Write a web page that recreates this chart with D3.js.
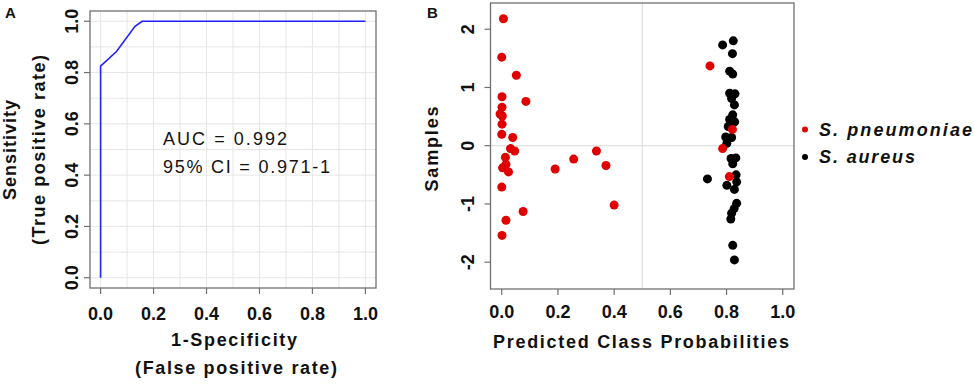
<!DOCTYPE html>
<html>
<head>
<meta charset="utf-8">
<script src="https://cdn.jsdelivr.net/npm/d3@7"></script>
<style>
  body { margin: 0; background: #fff; }
  svg { display: block; font-family: "Liberation Sans", Arial, sans-serif; }
</style>
</head>
<body>
<div id="chart"></div>
<script>
// ROC curve (panel A): false positive rate vs true positive rate
const rocFpr = [0, 0, 0.06, 0.13, 0.157, 1.0];
const rocTpr = [0, 0.825, 0.882, 0.98, 1.0, 1.0];
const rocTicks = [0, 0.2, 0.4, 0.6, 0.8, 1.0];
const rocGrid = [0, 0.1, 0.2, 0.3, 0.4, 0.5, 0.6, 0.7, 0.8, 0.9, 1.0];
const aucLines = ["AUC = 0.992", "95% CI = 0.971-1"];

// Panel B: predicted class probability (x) and jittered sample position (y)
const pneumoX = [0.006, 0.0, 0.052, 0.001, 0.086, 0.001, -0.006, 0.002, 0.001, 0.0, 0.039, 0.031, 0.046,
  0.013, 0.015, 0.003, 0.024, 0.19, 0.256, 0.337, 0.371, 0.0, 0.40, 0.076, 0.015, 0.001,
  0.741, 0.821, 0.786, 0.810];
const pneumoY = [2.18, 1.52, 1.21, 0.84, 0.76, 0.66, 0.545, 0.51, 0.37, 0.195, 0.14, -0.05, -0.09,
  -0.2, -0.32, -0.38, -0.45, -0.40, -0.23, -0.09, -0.34, -0.71, -1.02, -1.13, -1.28, -1.54,
  1.37, 0.28, -0.05, -0.53];
const aureusX = [0.786, 0.824, 0.821, 0.811, 0.822, 0.811, 0.830, 0.818, 0.828, 0.822, 0.811, 0.829,
  0.806, 0.797, 0.818, 0.801, 0.816, 0.833, 0.822, 0.732, 0.834, 0.836, 0.801, 0.828, 0.836,
  0.827, 0.818, 0.815, 0.822, 0.828];
const aureusY = [1.73, 1.80, 1.58, 1.28, 1.23, 0.90, 0.89, 0.81, 0.70, 0.53, 0.45, 0.41,
  0.33, 0.15, 0.14, 0.04, -0.22, -0.21, -0.31, -0.57, -0.50, -0.62, -0.68, -0.75, -0.99,
  -1.08, -1.16, -1.26, -1.71, -1.96];
const probTicks = [0, 0.2, 0.4, 0.6, 0.8, 1.0];
const sampleTicks = [-2, -1, 0, 1, 2];
const legendItems = [
  { label: "S. pneumoniae", color: "#e00000" },
  { label: "S. aureus", color: "#000000" },
];

const W = 974, H = 385;
const boxColor = "#707070";
const ink = "#111";
const fmt1 = d3.format(".1f");

const svg = d3.select("#chart").append("svg").attr("width", W).attr("height", H);

function drawBox(g, x, y) {
  const [x0, x1] = x.range();
  const [y0, y1] = y.range();
  g.append("rect")
    .attr("x", x0).attr("y", y1)
    .attr("width", x1 - x0).attr("height", y0 - y1)
    .attr("fill", "none").attr("stroke", boxColor).attr("stroke-width", 1.3);
}

function drawTicks(g, x, y, xt, yt, xfmt, yfmt, xLabY, yLabX) {
  const yb = y.range()[0], xl = x.range()[0];
  xt.forEach((t) => {
    g.append("line").attr("x1", x(t)).attr("x2", x(t)).attr("y1", yb).attr("y2", yb + 6)
      .attr("stroke", boxColor).attr("stroke-width", 1.2);
    g.append("text").attr("x", x(t)).attr("y", xLabY).attr("text-anchor", "middle")
      .attr("font-size", "18px").attr("font-weight", "bold").attr("fill", ink).text(xfmt(t));
  });
  yt.forEach((t) => {
    g.append("line").attr("x1", xl - 6).attr("x2", xl).attr("y1", y(t)).attr("y2", y(t))
      .attr("stroke", boxColor).attr("stroke-width", 1.2);
    g.append("text").attr("transform", `translate(${yLabX},${y(t)}) rotate(-90)`)
      .attr("text-anchor", "middle")
      .attr("font-size", "18px").attr("font-weight", "bold").attr("fill", ink).text(yfmt(t));
  });
}

// bold title text; the figure's text is set loose, so fix each label's length
function title(g, str, x, y, len, rotate) {
  const t = g.append("text")
    .attr("text-anchor", "middle")
    .attr("font-size", "18px").attr("font-weight", "bold")
    .attr("textLength", len).attr("lengthAdjust", "spacing")
    .attr("fill", ink).text(str);
  if (rotate) t.attr("transform", `translate(${x},${y}) rotate(-90)`);
  else t.attr("x", x).attr("y", y);
  return t;
}

// ---------- Panel A ----------
const gA = svg.append("g");
const xA = d3.scaleLinear().domain([-0.04, 1.04]).range([90, 376]);
const yA = d3.scaleLinear().domain([-0.04, 1.04]).range([288, 11]);

rocGrid.forEach((t) => {
  gA.append("line").attr("x1", xA(t)).attr("x2", xA(t)).attr("y1", 11).attr("y2", 288)
    .attr("stroke", "#e6e6e6").attr("stroke-width", 1);
  gA.append("line").attr("x1", 90).attr("x2", 376).attr("y1", yA(t)).attr("y2", yA(t))
    .attr("stroke", "#e6e6e6").attr("stroke-width", 1);
});
drawBox(gA, xA, yA);

const roc = rocFpr.map((f, i) => [f, rocTpr[i]]);
gA.append("path")
  .attr("d", d3.line().x((d) => xA(d[0])).y((d) => yA(d[1]))(roc))
  .attr("fill", "none").attr("stroke", "#2020ff").attr("stroke-width", 1.6);

const aucLen = [124, 167];
aucLines.forEach((s, i) => {
  gA.append("text").attr("x", 163).attr("y", 145 + i * 28)
    .attr("font-size", "18px").attr("textLength", aucLen[i]).attr("lengthAdjust", "spacing")
    .attr("fill", ink).text(s);
});

drawTicks(gA, xA, yA, rocTicks, rocTicks, fmt1, fmt1, 320, 78);

title(gA, "1-Specificity", 234, 346, 126);
title(gA, "(False positive rate)", 236, 374, 202);
title(gA, "Sensitivity", 16, 150, 100, true);
title(gA, "(True positive rate)", 45, 150, 190, true);
gA.append("text").attr("x", 5).attr("y", 18)
  .attr("font-size", "15px").attr("font-weight", "bold").attr("fill", ink).text("A");

// ---------- Panel B ----------
const gB = svg.append("g");
const xB = d3.scaleLinear().domain([-0.04, 1.04]).range([490.5, 794]);
const yB = d3.scaleLinear().domain([-2.46, 2.45]).range([289, 3]);

gB.append("line").attr("x1", xB(0.5)).attr("x2", xB(0.5)).attr("y1", 3).attr("y2", 289)
  .attr("stroke", "#d9d9d9").attr("stroke-width", 1);
gB.append("line").attr("x1", 490.5).attr("x2", 794).attr("y1", yB(0)).attr("y2", yB(0))
  .attr("stroke", "#d9d9d9").attr("stroke-width", 1);
drawBox(gB, xB, yB);

gB.selectAll(".aureus")
  .data(aureusX.map((x, i) => [x, aureusY[i]]))
  .join("circle").attr("class", "aureus")
  .attr("cx", (d) => xB(d[0])).attr("cy", (d) => yB(d[1])).attr("r", 4.5)
  .attr("fill", legendItems[1].color);
gB.selectAll(".pneumo")
  .data(pneumoX.map((x, i) => [x, pneumoY[i]]))
  .join("circle").attr("class", "pneumo")
  .attr("cx", (d) => xB(d[0])).attr("cy", (d) => yB(d[1])).attr("r", 4.5)
  .attr("fill", legendItems[0].color);

drawTicks(gB, xB, yB, probTicks, sampleTicks, fmt1, (d) => String(d), 318, 474);

title(gB, "Predicted Class Probabilities", 641, 348, 296);
title(gB, "Samples", 438, 149, 85, true);
gB.append("text").attr("x", 427).attr("y", 18)
  .attr("font-size", "15px").attr("font-weight", "bold").attr("fill", ink).text("B");

// Legend
const legendLen = [153, 96];
legendItems.forEach((it, i) => {
  const ly = 129.5 + i * 27.5;
  svg.append("circle").attr("cx", 805).attr("cy", ly).attr("r", 3).attr("fill", it.color);
  svg.append("text").attr("x", 819).attr("y", ly + 6)
    .attr("font-size", "18px").attr("font-weight", "bold").attr("font-style", "italic")
    .attr("textLength", legendLen[i]).attr("lengthAdjust", "spacing")
    .attr("fill", ink).text(it.label);
});
</script>
</body>
</html>
